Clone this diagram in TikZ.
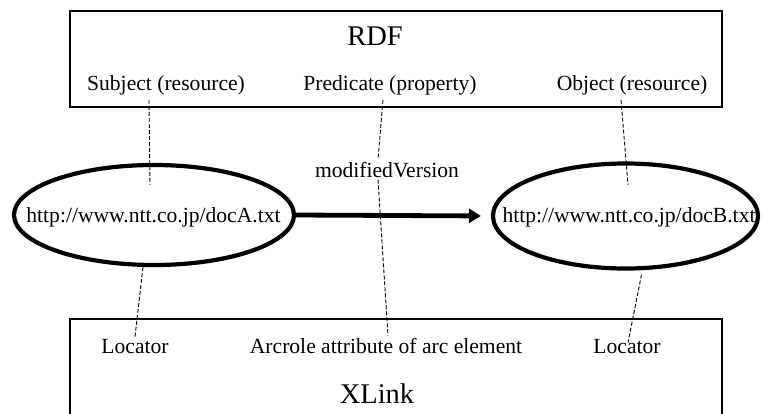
\documentclass[tikz,border=0pt]{standalone}
\usepackage{fontspec}
\setmainfont{Liberation Serif}
\usetikzlibrary{shapes.geometric,arrows.meta}
\begin{document}
\begin{tikzpicture}[x=1pt,y=-1pt,
  lbl/.style={font=\fontsize{21.6}{26}\selectfont, anchor=base, inner sep=2pt},
  ttl/.style={font=\fontsize{28.5}{34}\selectfont, anchor=base, inner sep=2pt},
  frame/.style={draw, line width=1.1pt, minimum width=652pt, inner sep=0pt},
  res/.style={draw, ellipse, line width=4.2pt, inner sep=0pt},
  rel/.style={draw, line width=4.8pt, -{Triangle[length=12pt,width=14pt]}, shorten >=10pt},
  link/.style={draw, line width=0.9pt, dash pattern=on 4pt off 2pt}]
\useasboundingbox (0,0) rectangle (762,413);

% layer frames
\node[frame, minimum height=96pt] (rdf) at (396,59) {};
\node[frame, minimum height=130pt] (xlink) at (396,384) {};
\node[ttl] (rdft) at (375,45) {RDF};
\node[ttl] (xlt) at (377,403) {XLink};

% RDF terms
\node[lbl] (subj) at (166,90) {Subject (resource)};
\node[lbl] (pred) at (390,90) {Predicate (property)};
\node[lbl] (obj) at (632,90) {Object (resource)};

% XLink terms
\node[lbl] (locA) at (135,353) {Locator};
\node[lbl] (arc) at (386,353) {Arcrole attribute of arc element};
\node[lbl] (locB) at (627,353) {Locator};

% resources
\node[res, minimum width=280pt, minimum height=100pt] (ea) at (154,215) {};
\node[lbl] (ua) at (153.5,222) {http://www.ntt.co.jp/docA.txt};
\node[res, minimum width=265pt, minimum height=105pt] (eb) at (625.5,216) {};
\node[lbl] (ub) at (629,222) {http://www.ntt.co.jp/docB.txt};

% property arc
\draw[rel] (ea.east) -- (eb.west);
\node[lbl] (mv) at (387,177) {modifiedVersion};

% free ends of the correspondence lines
\coordinate (sA) at (150,185);
\coordinate (oB) at (628,185);

% correspondence lines
\draw[link] ([xshift=-17pt,yshift=-3pt]subj.south) -- (sA);
\draw[link] ([xshift=-11pt,yshift=-3pt]obj.south) -- (oB);
\draw[link] ([xshift=-7pt,yshift=-3pt]pred.south) -- ([xshift=-9pt]mv.north);
\draw[link] ([xshift=-9pt]mv.south) -- ([xshift=2pt]arc.north);
\draw[link] ([xshift=-11pt]ea.south) -- (locA.north);
\draw[link] ([xshift=16pt,yshift=-4pt]eb.south) -- ([xshift=1pt,yshift=-6pt]locB.north);
\end{tikzpicture}
\end{document}
